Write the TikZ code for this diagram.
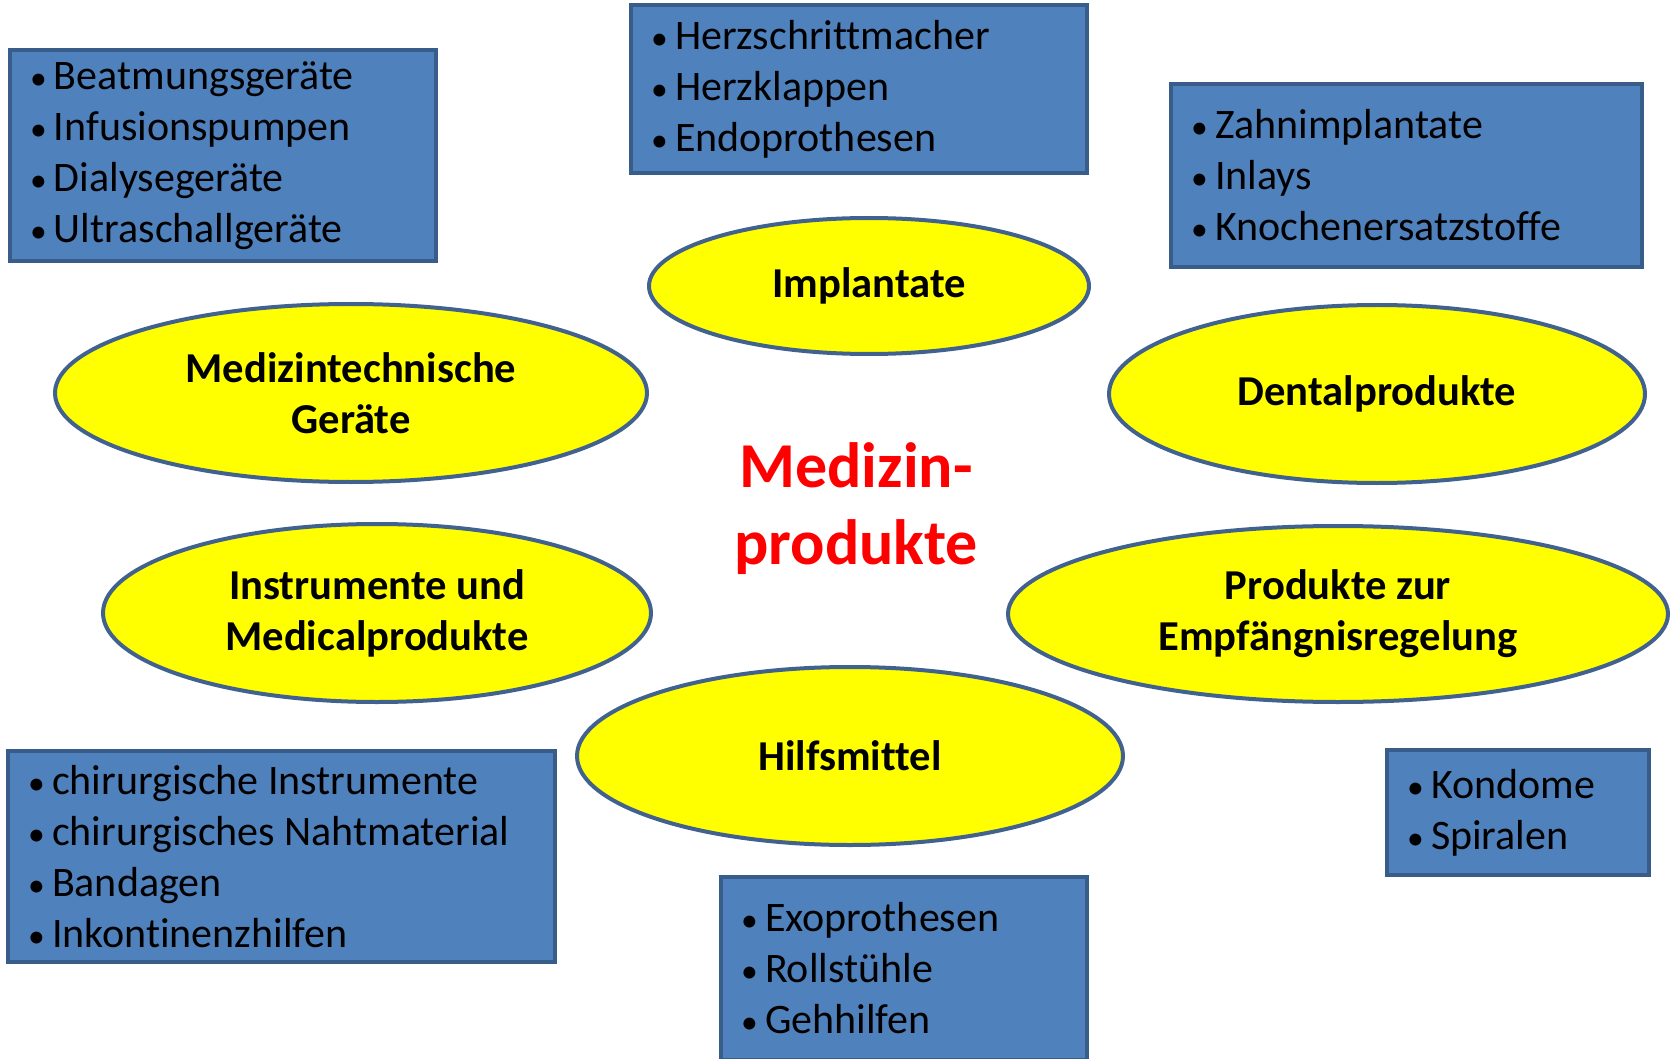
\documentclass[tikz,border=0pt]{standalone}
\usepackage{fontspec}
\setmainfont{Carlito}[Ligatures=NoCommon]
\usetikzlibrary{shapes.geometric}
\definecolor{boxblau}{HTML}{4F81BD}
\definecolor{boxrand}{HTML}{385D8A}
\definecolor{ellrand}{HTML}{41628F}
\definecolor{gelb}{HTML}{FFFF00}
\definecolor{rot}{HTML}{FF0000}
\newcommand{\pkt}[1]{\makebox[12pt][l]{\scalebox{0.8}{\textbullet}}#1}
\tikzset{
  liste/.style={rectangle, draw=boxrand, fill=boxblau, line width=2pt,
    inner xsep=10pt, inner ysep=0pt, align=flush left, anchor=north west,
    font=\fontsize{21}{25.5}\selectfont},
  gruppe/.style={ellipse, draw=ellrand, fill=gelb, line width=2pt,
    inner sep=0pt, align=center,
    font=\fontsize{21.3}{25.5}\selectfont\bfseries}
}
\begin{document}
\begin{tikzpicture}[x=0.5pt, y=-0.5pt]
  \useasboundingbox (0,0) rectangle (1671,1059);
  % Listen
  \node[liste, text width=193pt, minimum height=105.5pt] (geraeteliste) at (8,48)
    {\pkt{Beatmungsgeräte}\\\pkt{Infusionspumpen}\\\pkt{Dialysegeräte}\\\pkt{Ultraschallgeräte}};
  \node[liste, text width=208pt, minimum height=84pt] (implantatliste) at (629,3)
    {\pkt{Herzschrittmacher}\\\pkt{Herzklappen}\\\pkt{Endoprothesen}};
  \node[liste, text width=215.5pt, minimum height=91.5pt] (dentalliste) at (1169,82)
    {\pkt{Zahnimplantate}\\\pkt{Inlays}\\\pkt{Knochenersatzstoffe}};
  \node[liste, text width=253.5pt, minimum height=105.5pt] (instrumentliste) at (6,749)
    {\pkt{chirurgische Instrumente}\\\pkt{chirurgisches Nahtmaterial}\\\pkt{Bandagen}\\\pkt{Inkontinenzhilfen}};
  \node[liste, text width=163pt, minimum height=91.5pt] (hilfsliste) at (719,875)
    {\pkt{Exoprothesen}\\\pkt{Rollstühle}\\\pkt{Gehhilfen}};
  \node[liste, text width=111pt, minimum height=62.5pt] (verhuetliste) at (1385,748)
    {\pkt{Kondome}\\\pkt{Spiralen}};
  % Gruppen
  \node[gruppe, minimum width=220pt, minimum height=68pt] (implantate) at (869,286) {Implantate};
  \node[gruppe, minimum width=296pt, minimum height=89pt] (geraete) at (351,393) {Medizintechnische\\Geräte};
  \node[gruppe, minimum width=268pt, minimum height=89pt] (dental) at (1377,394) {Dentalprodukte};
  \node[gruppe, minimum width=274pt, minimum height=89pt] (instrumente) at (377,613) {Instrumente und\\Medicalprodukte};
  \node[gruppe, minimum width=330pt, minimum height=88pt] (verhuetung) at (1338,614) {Produkte zur\\Empfängnisregelung};
  \node[gruppe, minimum width=273pt, minimum height=89pt] (hilfsmittel) at (850,756) {Hilfsmittel};
  % Mitte
  \node[align=center, text=rot, font=\fontsize{32}{38.5}\selectfont\bfseries] (mitte) at (856,509) {Medizin-\\produkte};
\end{tikzpicture}
\end{document}
